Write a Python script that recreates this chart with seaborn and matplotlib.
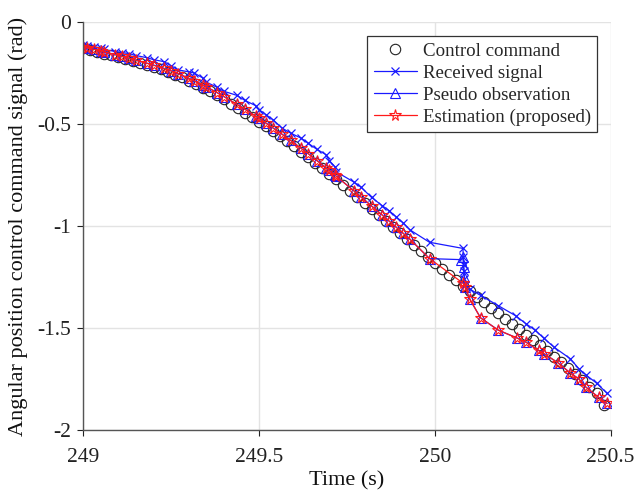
import numpy as np
import pandas as pd
import matplotlib
matplotlib.use("Agg")
import matplotlib.pyplot as plt
import seaborn as sns

# ---------------- data ----------------
cmd_t = [249.00, 249.02, 249.04, 249.06, 249.08, 249.10, 249.12, 249.14, 249.16, 249.18,
         249.20, 249.22, 249.24, 249.26, 249.28, 249.30, 249.32, 249.34, 249.36, 249.38,
         249.40, 249.42, 249.44, 249.46, 249.48, 249.50, 249.52, 249.54, 249.56, 249.58,
         249.60, 249.62, 249.64, 249.66, 249.68, 249.70, 249.72, 249.74, 249.76, 249.78,
         249.80, 249.82, 249.84, 249.86, 249.88, 249.90, 249.92, 249.94, 249.96, 249.98,
         250.00, 250.02, 250.04, 250.06, 250.08, 250.10, 250.12, 250.14, 250.16, 250.18,
         250.20, 250.22, 250.24, 250.26, 250.28, 250.30, 250.32, 250.34, 250.36, 250.38,
         250.40, 250.42, 250.44, 250.46, 250.48]
cmd_y = [-0.130, -0.138, -0.146, -0.155, -0.164, -0.173, -0.182, -0.192, -0.202, -0.212,
         -0.222, -0.233, -0.245, -0.258, -0.272, -0.288, -0.304, -0.322, -0.341, -0.360,
         -0.380, -0.401, -0.422, -0.444, -0.466, -0.489, -0.512, -0.536, -0.560, -0.585,
         -0.610, -0.636, -0.662, -0.689, -0.716, -0.744, -0.772, -0.800, -0.829, -0.858,
         -0.887, -0.916, -0.945, -0.975, -1.004, -1.034, -1.063, -1.093, -1.122, -1.151,
         -1.180, -1.209, -1.238, -1.266, -1.294, -1.321, -1.348, -1.375, -1.402, -1.428,
         -1.454, -1.480, -1.506, -1.532, -1.558, -1.585, -1.612, -1.640, -1.668, -1.697,
         -1.726, -1.756, -1.787, -1.820, -1.877]

rx_t = [249.00, 249.01, 249.03, 249.05, 249.06, 249.09, 249.11, 249.13, 249.15, 249.18,
        249.20, 249.23, 249.25, 249.27, 249.30, 249.315, 249.34, 249.35, 249.38, 249.40,
        249.437, 249.46, 249.49, 249.50, 249.52, 249.54, 249.565, 249.59, 249.62, 249.64,
        249.665, 249.69, 249.70, 249.716, 249.72, 249.77, 249.79, 249.82, 249.85, 249.87,
        249.89, 249.91, 249.93, 249.985, 250.080, 250.081, 250.082, 250.083, 250.084, 250.086,
        250.10, 250.13, 250.18, 250.23, 250.26, 250.285, 250.31, 250.34, 250.385, 250.41,
        250.43, 250.46, 250.49]
rx_y = [-0.115, -0.120, -0.125, -0.130, -0.135, -0.145, -0.150, -0.155, -0.165, -0.175,
        -0.185, -0.195, -0.215, -0.235, -0.245, -0.250, -0.275, -0.295, -0.320, -0.340,
        -0.360, -0.385, -0.410, -0.430, -0.455, -0.480, -0.520, -0.545, -0.570, -0.595,
        -0.625, -0.650, -0.680, -0.710, -0.735, -0.785, -0.810, -0.860, -0.900, -0.925,
        -0.955, -0.985, -1.020, -1.080, -1.110, -1.150, -1.190, -1.220, -1.260, -1.290,
        -1.310, -1.340, -1.390, -1.440, -1.480, -1.510, -1.550, -1.595, -1.650, -1.700,
        -1.730, -1.770, -1.820]

ps_t = [249.00, 249.01, 249.03, 249.05, 249.06, 249.09, 249.11, 249.13, 249.15, 249.18,
        249.20, 249.23, 249.25, 249.27, 249.30, 249.315, 249.34, 249.35, 249.38, 249.40,
        249.437, 249.46, 249.49, 249.50, 249.52, 249.54, 249.565, 249.59, 249.62, 249.64,
        249.665, 249.69, 249.70, 249.716, 249.72, 249.77, 249.79, 249.82, 249.85, 249.87,
        249.89, 249.91, 249.93, 249.985, 250.075, 250.080, 250.082, 250.084, 250.086,
        250.10, 250.13, 250.18, 250.235, 250.26, 250.295, 250.31, 250.35, 250.385, 250.41,
        250.43, 250.466, 250.49]
ps_y = [-0.122, -0.127, -0.134, -0.142, -0.147, -0.160, -0.169, -0.178, -0.188, -0.202,
        -0.212, -0.228, -0.240, -0.254, -0.276, -0.288, -0.309, -0.318, -0.346, -0.366,
        -0.404, -0.428, -0.461, -0.472, -0.496, -0.520, -0.550, -0.581, -0.620, -0.646,
        -0.680, -0.714, -0.728, -0.750, -0.757, -0.828, -0.858, -0.902, -0.946, -0.976,
        -1.006, -1.036, -1.066, -1.160, -1.165, -1.150, -1.200, -1.250, -1.300,
        -1.360, -1.450, -1.510, -1.550, -1.570, -1.610, -1.625, -1.670, -1.720, -1.750,
        -1.790, -1.840, -1.870]

est_t = [249.00, 249.01, 249.03, 249.05, 249.06, 249.09, 249.11, 249.13, 249.15, 249.18,
         249.20, 249.23, 249.25, 249.27, 249.30, 249.315, 249.34, 249.35, 249.38, 249.40,
         249.437, 249.46, 249.49, 249.50, 249.52, 249.54, 249.565, 249.59, 249.62, 249.64,
         249.665, 249.69, 249.70, 249.716, 249.72, 249.77, 249.79, 249.82, 249.85, 249.87,
         249.89, 249.91, 249.93, 249.985, 250.080, 250.086,
         250.10, 250.13, 250.18, 250.235, 250.26, 250.295, 250.31, 250.35, 250.385, 250.41,
         250.43, 250.466, 250.49]
est_y = [-0.122, -0.127, -0.134, -0.142, -0.147, -0.160, -0.169, -0.178, -0.188, -0.202,
         -0.212, -0.228, -0.240, -0.254, -0.276, -0.288, -0.309, -0.318, -0.346, -0.366,
         -0.404, -0.428, -0.461, -0.472, -0.496, -0.520, -0.550, -0.581, -0.620, -0.646,
         -0.680, -0.714, -0.728, -0.750, -0.757, -0.828, -0.858, -0.902, -0.946, -0.976,
         -1.006, -1.036, -1.066, -1.160, -1.280, -1.300,
         -1.360, -1.450, -1.510, -1.550, -1.570, -1.610, -1.625, -1.670, -1.720, -1.750,
         -1.790, -1.840, -1.870]

x_ticks = [249, 249.5, 250, 250.5]
x_labels = ["249", "249.5", "250", "250.5"]
y_ticks = [0, -0.5, -1, -1.5, -2]
y_labels = ["0", "-0.5", "-1", "-1.5", "-2"]

BLUE = "#1a1aff"
RED = "#ff1a1a"
BLACK = "#222222"

# ---------------- style ----------------
sns.set_theme(style="whitegrid")
plt.rcParams["font.family"] = ["Liberation Serif", "DejaVu Serif"]
plt.rcParams["axes.unicode_minus"] = False

fig = plt.figure(figsize=(6.36, 4.98), dpi=100)
ax = fig.add_axes([0.131, 0.1365, 0.829, 0.8195])

df_cmd = pd.DataFrame({"t": cmd_t, "y": cmd_y})
df_rx = pd.DataFrame({"t": rx_t, "y": rx_y})
df_ps = pd.DataFrame({"t": ps_t, "y": ps_y})
df_est = pd.DataFrame({"t": est_t, "y": est_y})

series = [
    (df_cmd, "Control command", dict(color=BLACK, linestyle="none", marker="o",
                                     markersize=7.5, markerfacecolor="none",
                                     markeredgecolor=BLACK, markeredgewidth=0.8)),
    (df_rx, "Received signal", dict(color=BLUE, linestyle="-", linewidth=0.9, marker="x",
                                    markersize=5.5, markeredgecolor=BLUE,
                                    markeredgewidth=0.9)),
    (df_ps, "Pseudo observation", dict(color=BLUE, linestyle="-", linewidth=0.9, marker="^",
                                       markersize=7, markerfacecolor="none",
                                       markeredgecolor=BLUE, markeredgewidth=0.8)),
    (df_est, "Estimation (proposed)", dict(color=RED, linestyle="-", linewidth=0.9,
                                           marker="*", markersize=8.5,
                                           markerfacecolor="none", markeredgecolor=RED,
                                           markeredgewidth=0.8)),
]

handles = []
for df, label, style in series:
    n_before = len(ax.lines)
    sns.lineplot(data=df, x="t", y="y", ax=ax, estimator=None, sort=False,
                 color=style["color"], legend=False)
    line = ax.lines[n_before]
    line.set_label(label)
    line.set_linestyle(style["linestyle"])
    if "linewidth" in style:
        line.set_linewidth(style["linewidth"])
    line.set_marker(style["marker"])
    line.set_markersize(style["markersize"])
    line.set_markeredgecolor(style["markeredgecolor"])
    line.set_markeredgewidth(style["markeredgewidth"])
    if "markerfacecolor" in style:
        line.set_markerfacecolor(style["markerfacecolor"])
    handles.append(line)

ax.set_xlim(249, 250.5)
ax.set_ylim(-2, 0)
ax.set_xticks(x_ticks)
ax.set_xticklabels(x_labels)
ax.set_yticks(y_ticks)
ax.set_yticklabels(y_labels)
ax.tick_params(axis="both", labelsize=15.5, colors="#222222", direction="out",
               length=4, width=0.8, left=True, bottom=True)
ax.tick_params(axis="x", pad=9)
ax.tick_params(axis="y", pad=5)
ax.set_xlabel("Time (s)", fontsize=16, color="#111111", labelpad=3)
ax.set_ylabel("Angular position control command signal (rad)", fontsize=16,
              color="#111111", labelpad=6)

ax.set_facecolor("white")
ax.grid(True, color="#e3e3e3", linewidth=1.0)
for side in ["top", "right"]:
    ax.spines[side].set_visible(False)
for side in ["left", "bottom"]:
    ax.spines[side].set_color("#555555")
    ax.spines[side].set_linewidth(1.0)

leg = ax.legend(handles=handles, loc="upper right", bbox_to_anchor=(0.975, 0.966),
                borderaxespad=0, fontsize=13.6, frameon=True, fancybox=False,
                framealpha=1, edgecolor="#333333", handlelength=2.3, handletextpad=0.3,
                labelspacing=0.25, borderpad=0.35)
leg.get_frame().set_linewidth(0.9)

fig.savefig("out.png", dpi=100)
